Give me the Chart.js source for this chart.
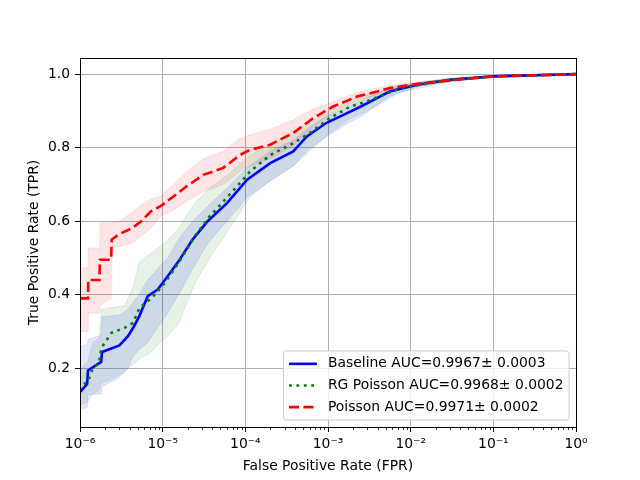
<!DOCTYPE html>
<html>
<head>
<meta charset="utf-8">
<script src="https://cdn.jsdelivr.net/npm/chart.js@4/dist/chart.umd.min.js"></script>
<style>
body { margin: 0; background: #fff; }
#wrap { width: 640px; height: 480px; }
</style>
</head>
<body>
<div id="wrap"><canvas id="roc" width="640" height="480"></canvas></div>
<script>
// ROC curves, values (FPR is on a log axis)
const baseFpr = [1e-6, 1.22e-6, 1.25e-6, 1.8e-6, 1.85e-6, 3.0e-6, 3.8e-6, 4.4e-6, 5.2e-6, 6.6e-6, 8.7e-6, 1.15e-5, 1.55e-5, 2.3e-5, 3.5e-5, 6e-5, 1.05e-4, 2e-4, 3.8e-4, 5.5e-4, 9.5e-4, 1.7e-3, 2.5e-3, 5.6e-3, 1.2e-2, 3e-2, 1e-1, 1];
const baseTpr = [0.135, 0.157, 0.194, 0.217, 0.244, 0.262, 0.287, 0.31, 0.341, 0.396, 0.414, 0.45, 0.49, 0.55, 0.60, 0.649, 0.713, 0.758, 0.79, 0.83, 0.867, 0.894, 0.912, 0.953, 0.971, 0.985, 0.994, 1.0];
const baseLo = [0.088, 0.093, 0.128, 0.13, 0.15, 0.175, 0.20, 0.233, 0.25, 0.27, 0.31, 0.35, 0.40, 0.47, 0.54, 0.60, 0.665, 0.71, 0.75, 0.79, 0.83, 0.865, 0.885, 0.94, 0.965, 0.98, 0.992, 1.0];
const baseHi = [0.26, 0.265, 0.278, 0.29, 0.34, 0.345, 0.36, 0.38, 0.40, 0.44, 0.47, 0.50, 0.55, 0.60, 0.64, 0.69, 0.745, 0.79, 0.82, 0.85, 0.885, 0.91, 0.928, 0.962, 0.977, 0.989, 0.996, 1.0];

const rgFpr = [1e-6, 1.04e-6, 1.25e-6, 1.43e-6, 1.7e-6, 1.81e-6, 2.4e-6, 3.47e-6, 4.37e-6, 5.25e-6, 6.97e-6, 8.4e-6, 1.06e-5, 1.55e-5, 2.45e-5, 3.7e-5, 6.45e-5, 1.14e-4, 2e-4, 3.8e-4, 6e-4, 1.05e-3, 1.86e-3, 2.95e-3, 7.4e-3, 3e-2, 1e-1, 1];
const rgTpr = [0.14, 0.151, 0.165, 0.20, 0.215, 0.255, 0.296, 0.31, 0.323, 0.364, 0.387, 0.405, 0.432, 0.486, 0.559, 0.613, 0.672, 0.735, 0.78, 0.812, 0.84, 0.88, 0.912, 0.926, 0.962, 0.985, 0.994, 1.0];
const rgLo = [0.10, 0.10, 0.11, 0.13, 0.14, 0.16, 0.17, 0.19, 0.21, 0.225, 0.24, 0.26, 0.28, 0.32, 0.43, 0.50, 0.58, 0.665, 0.71, 0.75, 0.79, 0.84, 0.88, 0.90, 0.95, 0.98, 0.992, 1.0];
const rgHi = [0.19, 0.20, 0.22, 0.27, 0.28, 0.36, 0.365, 0.37, 0.42, 0.49, 0.51, 0.525, 0.54, 0.58, 0.65, 0.69, 0.73, 0.78, 0.81, 0.845, 0.87, 0.90, 0.93, 0.945, 0.97, 0.989, 0.996, 1.0];

const poisFpr = [1e-6, 1.25e-6, 1.26e-6, 1.72e-6, 1.74e-6, 2.38e-6, 2.42e-6, 3.0e-6, 4.2e-6, 5.5e-6, 7.2e-6, 9.3e-6, 1.35e-5, 1.95e-5, 3.1e-5, 5.4e-5, 8.6e-5, 1.14e-4, 2e-4, 3.8e-4, 6.6e-4, 1.15e-3, 2.24e-3, 5.6e-3, 1.4e-2, 1e-1, 1];
const poisTpr = [0.39, 0.39, 0.44, 0.44, 0.495, 0.495, 0.55, 0.565, 0.58, 0.60, 0.627, 0.64, 0.667, 0.695, 0.726, 0.745, 0.78, 0.794, 0.808, 0.84, 0.88, 0.912, 0.939, 0.962, 0.976, 0.994, 1.0];
const poisLo = [0.30, 0.30, 0.35, 0.35, 0.37, 0.39, 0.53, 0.53, 0.54, 0.56, 0.58, 0.613, 0.63, 0.655, 0.68, 0.70, 0.735, 0.75, 0.77, 0.805, 0.855, 0.895, 0.928, 0.955, 0.972, 0.992, 1.0];
const poisHi = [0.473, 0.473, 0.527, 0.527, 0.596, 0.596, 0.596, 0.60, 0.623, 0.645, 0.66, 0.667, 0.70, 0.735, 0.77, 0.79, 0.825, 0.835, 0.85, 0.875, 0.905, 0.925, 0.95, 0.969, 0.98, 0.996, 1.0];

const labels = ["Baseline AUC=0.9967\u00b1 0.0003", "RG Poisson AUC=0.9968\u00b1 0.0002", "Poisson AUC=0.9971\u00b1 0.0002"];
const xTicks = [1e-6, 1e-5, 1e-4, 1e-3, 1e-2, 1e-1, 1];
const xTickLabels = ["10\u207b\u2076", "10\u207b\u2075", "10\u207b\u2074", "10\u207b\u00b3", "10\u207b\u00b2", "10\u207b\u00b9", "10\u2070"];
const yTicks = [0.2, 0.4, 0.6, 0.8, 1.0];

// minor ticks 2..9 in every decade
let minorTicks = [];
for (let i = 0; i < xTicks.length - 1; i++) {
    for (let k = 2; k <= 9; k++) minorTicks.push(k * xTicks[i]);
}
const isMajor = (v) => xTicks.some(t => Math.abs(Math.log10(v) - Math.log10(t)) < 1e-6);

const pts = (xs, ys) => xs.map((x, i) => ({x: x, y: ys[i]}));

const line = (label, xs, ys, color, dash) => ({
    label: label, data: pts(xs, ys), borderColor: color, borderWidth: 2.6,
    borderDash: dash, borderCapStyle: 'butt', pointRadius: 0, fill: false, tension: 0
});
const band = (xs, ys, rgba, fill) => ({
    label: '', data: pts(xs, ys), borderColor: rgba, borderWidth: 1,
    backgroundColor: rgba, pointRadius: 0, fill: fill, tension: 0
});

const styles = [
    {color: '#0000ff', dash: []},
    {color: '#008000', dash: [2.8, 4.6]},
    {color: '#ff0000', dash: [10, 4.4]}
];

Chart.defaults.font.family = "'DejaVu Sans', sans-serif";
Chart.defaults.font.size = 13.9;
Chart.defaults.color = '#000';

const frameAndLegend = {
    id: 'frameAndLegend',
    afterDraw(chart) {
        const ctx = chart.ctx;
        const a = chart.chartArea;
        const xs = chart.scales.x;
        ctx.save();
        // minor ticks on the log axis
        ctx.strokeStyle = '#000';
        ctx.lineWidth = 0.8;
        ctx.beginPath();
        minorTicks.forEach(v => {
            const px = Math.round(xs.getPixelForValue(v)) + 0.5;
            ctx.moveTo(px, a.bottom);
            ctx.lineTo(px, a.bottom + 3);
        });
        ctx.stroke();
        // all four spines
        ctx.lineWidth = 1;
        ctx.strokeRect(Math.round(a.left) + 0.5, Math.round(a.top) + 0.5, Math.round(a.right - a.left), Math.round(a.bottom - a.top));

        // legend, lower right
        const fs = 13.9;
        ctx.font = fs + "px 'DejaVu Sans'";
        const tw = Math.max(...labels.map(t => ctx.measureText(t).width));
        const pad = 0.4 * fs, hl = 2 * fs, hp = 0.8 * fs, rowH = 14.7, sp = 0.5 * fs;
        const w = pad + hl + hp + tw + pad;
        const h = 2 * pad + 3 * rowH + 2 * sp;
        const right = a.right - 0.5 * fs, bottom = a.bottom - 0.5 * fs;
        const left = right - w, top = bottom - h;
        ctx.beginPath();
        if (ctx.roundRect) ctx.roundRect(left, top, w, h, 3); else ctx.rect(left, top, w, h);
        ctx.fillStyle = 'rgba(255,255,255,0.8)';
        ctx.fill();
        ctx.strokeStyle = '#cccccc';
        ctx.lineWidth = 1;
        ctx.stroke();
        labels.forEach((t, i) => {
            const cy = top + pad + rowH / 2 + i * (rowH + sp);
            ctx.beginPath();
            ctx.setLineDash(styles[i].dash);
            ctx.strokeStyle = styles[i].color;
            ctx.lineWidth = 2.6;
            ctx.lineCap = 'butt';
            ctx.moveTo(left + pad, cy);
            ctx.lineTo(left + pad + hl, cy);
            ctx.stroke();
            ctx.setLineDash([]);
            ctx.fillStyle = '#000';
            ctx.textBaseline = 'middle';
            ctx.textAlign = 'left';
            ctx.fillText(t, left + pad + hl + hp, cy);
        });
        ctx.restore();
    }
};

new Chart(document.getElementById('roc'), {
    type: 'line',
    data: {
        datasets: [
            line(labels[2], poisFpr, poisTpr, styles[2].color, styles[2].dash),
            line(labels[1], rgFpr, rgTpr, styles[1].color, styles[1].dash),
            line(labels[0], baseFpr, baseTpr, styles[0].color, styles[0].dash),
            band(baseFpr, baseLo, 'rgba(0,0,255,0.1)', false),
            band(baseFpr, baseHi, 'rgba(0,0,255,0.1)', '-1'),
            band(rgFpr, rgLo, 'rgba(0,128,0,0.1)', false),
            band(rgFpr, rgHi, 'rgba(0,128,0,0.1)', '-1'),
            band(poisFpr, poisLo, 'rgba(255,0,0,0.1)', false),
            band(poisFpr, poisHi, 'rgba(255,0,0,0.1)', '-1')
        ]
    },
    options: {
        responsive: false,
        animation: false,
        events: [],
        layout: {padding: {top: 58, right: 64, left: 0, bottom: 0}},
        plugins: {legend: {display: false}, tooltip: {enabled: false}},
        scales: {
            x: {
                type: 'logarithmic',
                min: 1e-6,
                max: 1,
                afterFit: (s) => { s.height = 53; },
                afterBuildTicks: (s) => { s.ticks = xTicks.concat(minorTicks).sort((p, q) => p - q).map(v => ({value: v})); },
                ticks: {
                    autoSkip: false, maxRotation: 0, minRotation: 0, padding: 4,
                    callback: (v) => { const i = xTicks.findIndex(t => Math.abs(Math.log10(v) - Math.log10(t)) < 1e-6); return i >= 0 ? xTickLabels[i] : ''; }
                },
                grid: {
                    color: (c) => (c.tick && isMajor(c.tick.value)) ? '#b0b0b0' : 'rgba(0,0,0,0)',
                    tickColor: (c) => (c.tick && isMajor(c.tick.value)) ? '#000' : 'rgba(0,0,0,0)',
                    lineWidth: 1, tickWidth: 1, tickLength: 5
                },
                border: {color: '#000', width: 1},
                title: {display: true, text: 'False Positive Rate (FPR)', padding: {top: 0, bottom: 5}}
            },
            y: {
                type: 'linear',
                min: 0.04,
                max: 1.044,
                afterFit: (s) => { s.width = 80; },
                afterBuildTicks: (s) => { s.ticks = yTicks.map(v => ({value: v})); },
                ticks: {padding: 5, callback: (v) => v.toFixed(1)},
                grid: {color: '#b0b0b0', tickColor: '#000', lineWidth: 1, tickWidth: 1, tickLength: 5},
                border: {color: '#000', width: 1},
                title: {display: true, text: 'True Positive Rate (TPR)', padding: {top: 26, bottom: 0}}
            }
        }
    },
    plugins: [frameAndLegend]
});
</script>
</body>
</html>
